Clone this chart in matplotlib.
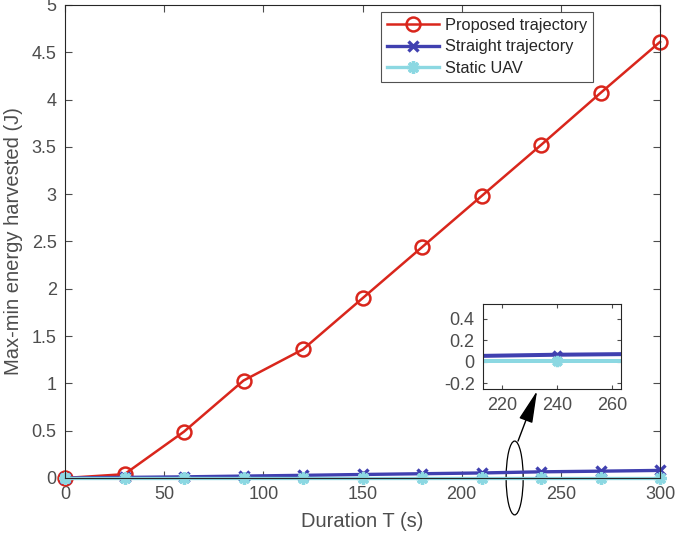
import numpy as np
import matplotlib
matplotlib.use('Agg')
import matplotlib.pyplot as plt
from matplotlib.patches import Ellipse

plt.rcParams['font.family'] = ['Liberation Sans', 'DejaVu Sans']

# data
T = [0, 30, 60, 90, 120, 150, 180, 210, 240, 270, 300]
proposed = [0.0, 0.04, 0.49, 1.03, 1.36, 1.90, 2.44, 2.98, 3.52, 4.07, 4.61]
straight = [0.0, 0.006, 0.012, 0.02, 0.028, 0.037, 0.045, 0.053, 0.065, 0.072, 0.08]
static = [0.003, 0.003, 0.003, 0.003, 0.003, 0.003, 0.003, 0.003, 0.003, 0.003, 0.003]

c_red = '#D9261C'
c_blue = '#4040B0'
c_cyan = '#8CD8E2'
c_txt = '#4D4D4D'
c_ax = '#262626'

fig = plt.figure(figsize=(6.78, 5.41), dpi=100)
ax = fig.add_axes([0.0959, 0.1165, 0.8776, 0.8743])

def draw(a, ms=1.0, lw=1.0, clip=True):
    a.plot(T, proposed, '-o', color=c_red, lw=1.8, ms=10*ms, mfc='none', mew=1.8,
           label='Proposed trajectory', clip_on=clip)
    a.plot(T, straight, '-x', color=c_blue, lw=2.4*lw, ms=7*ms, mew=2.4,
           label='Straight trajectory', clip_on=clip)
    a.plot(T, static, '-', marker=(8, 2, 0), color=c_cyan, lw=2.4*lw, ms=9*ms, mew=2.4,
           label='Static UAV', clip_on=clip)

draw(ax, clip=False)
ax.set_xlim(0, 300)
ax.set_ylim(0, 5)
ax.set_xticks(np.arange(0, 301, 50))
ax.set_yticks(np.arange(0, 5.01, 0.5))
ax.set_yticklabels(['0', '0.5', '1', '1.5', '2', '2.5', '3', '3.5', '4', '4.5', '5'])
ax.set_xlabel('Duration T (s)', fontsize=14.5, color=c_txt, labelpad=6)
ax.set_ylabel('Max-min energy harvested (J)', fontsize=14.5, color=c_txt, labelpad=6)
ax.tick_params(direction='in', labelsize=13, colors=c_txt, top=True, right=True,
               length=5, pad=6)
for s in ax.spines.values():
    s.set_color(c_ax)
    s.set_linewidth(0.8)
leg = ax.legend(loc='upper right', bbox_to_anchor=(0.887, 0.985), fontsize=11.8,
                frameon=True, fancybox=False, edgecolor=c_ax, handlelength=3.2,
                handletextpad=0.35, borderpad=0.35, borderaxespad=0, labelspacing=0.4)
leg.get_frame().set_linewidth(0.8)
leg.set_zorder(5)
for t in leg.get_texts():
    t.set_color(c_ax)

# zoom region marker
ell = Ellipse((226.7, 0.0), 8.6, 0.78, fill=False, color='black', lw=0.9, clip_on=False)
ax.add_patch(ell)
ax.annotate('', xy=(238, 0.92), xytext=(228.4, 0.39),
            arrowprops=dict(arrowstyle='-|>,head_length=1.0,head_width=0.22',
                            color='black', lw=1, mutation_scale=20, shrinkA=0, shrinkB=0))

# inset
ins = fig.add_axes([483/678, 1-389/541, 138/678, 85/541])
draw(ins, ms=0.9, lw=1.2)
ins.set_xlim(213.1, 263.3)
ins.set_ylim(-0.256, 0.54)
ins.set_xticks([220, 240, 260])
ins.set_yticks([-0.2, 0, 0.2, 0.4])
ins.set_yticklabels(['-0.2', '0', '0.2', '0.4'])
ins.tick_params(direction='in', labelsize=13, colors=c_txt, top=True, right=True,
                length=3, pad=6)
for s in ins.spines.values():
    s.set_color(c_ax)
    s.set_linewidth(0.8)

fig.savefig('out.png', dpi=100)
